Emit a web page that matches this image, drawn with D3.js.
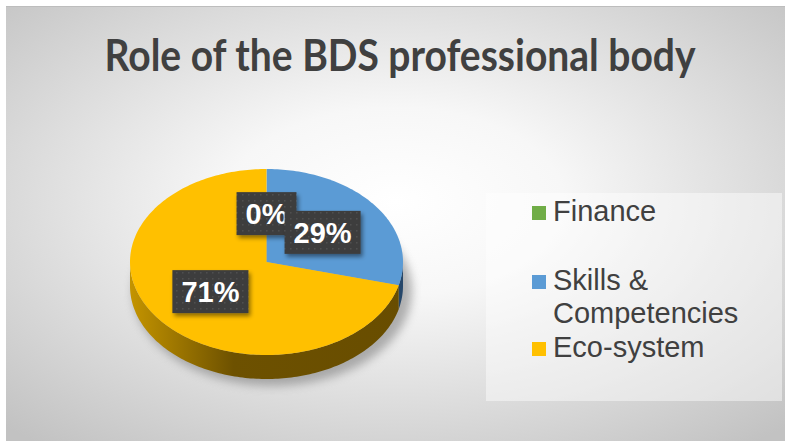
<!DOCTYPE html>
<html>
<head>
<meta charset="utf-8">
<script src="https://cdn.jsdelivr.net/npm/d3@7"></script>
<style>
  html, body { margin: 0; padding: 0; background: #ffffff; }
  svg { display: block; }
</style>
</head>
<body>
<svg id="chart" width="785" height="441"></svg>
<script>
// ---- data ----
const categories = ["Finance", "Skills & Competencies", "Eco-system"];
const values = [0, 29, 71];
const labels = ["0%", "29%", "71%"];
const legendLines = [["Finance"], ["Skills &", "Competencies"], ["Eco-system"]];
const titleText = "Role of the BDS professional body";

// ---- styling ----
const topColors = ["#70AD47", "#5B9BD5", "#FFC000"];
const sideStops = [
  [["0", "#4d7a30"], ["0.35", "#2f4d1c"], ["1", "#2c481a"]],
  [["0", "#3f6f9c"], ["0.35", "#2a4d70"], ["1", "#26476a"]],
  [["0", "#c49400"], ["0.38", "#6d5100"], ["1", "#684d00"]]
];

const svg = d3.select("#chart");
const W = 785, H = 441;
const defs = svg.append("defs");

// chart area background: soft radial light
const bg = defs.append("radialGradient").attr("id", "bgGrad")
  .attr("cx", "0.5").attr("cy", "0.45").attr("r", "0.72");
bg.append("stop").attr("offset", "0").attr("stop-color", "#ffffff");
bg.append("stop").attr("offset", "0.3").attr("stop-color", "#f7f7f7");
bg.append("stop").attr("offset", "1").attr("stop-color", "#c2c2c2");

svg.append("rect").attr("x", 6).attr("y", 6).attr("width", W - 6).attr("height", H - 6)
  .attr("fill", "url(#bgGrad)");
svg.append("line").attr("x1", 6).attr("x2", W).attr("y1", 6.5).attr("y2", 6.5)
  .attr("stroke", "#bdbdbd").attr("stroke-width", 1);

// title
svg.append("text")
  .attr("x", 400).attr("y", 71)
  .attr("text-anchor", "middle")
  .attr("font-family", "Lato, 'Open Sans', sans-serif")
  .attr("font-weight", "bold")
  .attr("font-size", 43)
  .attr("textLength", 591)
  .attr("lengthAdjust", "spacingAndGlyphs")
  .attr("fill", "#404040")
  .text(titleText);

// ---- 3D pie geometry ----
const cx = 266.5, cy = 262, rx = 136.5, ry = 93, depth = 24;
const pie = d3.pie().sort(null).value(d => d)
  .startAngle(0).endAngle(2 * Math.PI);
const arcs = pie(values);

const px = a => cx + rx * Math.sin(a);
const py = a => cy - ry * Math.cos(a);

function topPath(a0, a1) {
  const n = Math.max(2, Math.ceil((a1 - a0) / 0.02));
  const pts = d3.range(n + 1).map(i => {
    const a = a0 + (a1 - a0) * i / n;
    return [px(a), py(a)];
  });
  return "M" + cx + "," + cy + "L" + pts.map(p => p.join(",")).join("L") + "Z";
}

function sidePath(a0, a1) {
  const s = Math.max(a0, Math.PI / 2), e = Math.min(a1, 3 * Math.PI / 2);
  if (e <= s) return null;
  const n = Math.max(2, Math.ceil((e - s) / 0.02));
  const upper = d3.range(n + 1).map(i => s + (e - s) * i / n);
  const lower = upper.slice().reverse();
  return "M" + upper.map(a => px(a) + "," + py(a)).join("L") +
    "L" + lower.map(a => px(a) + "," + (py(a) + depth)).join("L") + "Z";
}

// shadow under the pie
const sh = defs.append("filter").attr("id", "pieShadow")
  .attr("x", "-20%").attr("y", "-20%").attr("width", "140%").attr("height", "140%");
sh.append("feGaussianBlur").attr("stdDeviation", 5);
svg.append("ellipse")
  .attr("cx", cx + 6).attr("cy", cy + depth + 5)
  .attr("rx", rx + 3).attr("ry", ry + 2)
  .attr("fill", "#808080").attr("opacity", 0.6)
  .attr("filter", "url(#pieShadow)");

// side gradients
sideStops.forEach((stops, i) => {
  const g = defs.append("linearGradient").attr("id", "side" + i)
    .attr("gradientUnits", "userSpaceOnUse")
    .attr("x1", cx - rx).attr("x2", cx + rx).attr("y1", 0).attr("y2", 0);
  stops.forEach(s => g.append("stop").attr("offset", s[0]).attr("stop-color", s[1]));
});

const pieG = svg.append("g");
arcs.forEach((d, i) => {
  const p = sidePath(d.startAngle, d.endAngle);
  if (p) pieG.append("path").attr("d", p).attr("fill", "url(#side" + i + ")");
});
arcs.forEach((d, i) => {
  if (d.endAngle - d.startAngle <= 0) return;
  pieG.append("path").attr("d", topPath(d.startAngle, d.endAngle)).attr("fill", topColors[i]);
});

// ---- data labels ----
const pat = defs.append("pattern").attr("id", "dots")
  .attr("patternUnits", "userSpaceOnUse").attr("width", 6).attr("height", 6);
pat.append("rect").attr("width", 6).attr("height", 6).attr("fill", "#3d3d3d");
pat.append("rect").attr("x", 2).attr("y", 2).attr("width", 1.5).attr("height", 1.5).attr("fill", "#505050");

const ls = defs.append("filter").attr("id", "lblShadow")
  .attr("x", "-20%").attr("y", "-20%").attr("width", "150%").attr("height", "160%");
ls.append("feDropShadow").attr("dx", 2).attr("dy", 3).attr("stdDeviation", 2)
  .attr("flood-color", "#000").attr("flood-opacity", 0.45);

const k = 0.52;
arcs.forEach((d, i) => {
  const mid = (d.startAngle + d.endAngle) / 2;
  const lx = cx + k * rx * Math.sin(mid);
  const ly = cy - k * ry * Math.cos(mid);
  const g = svg.append("g");
  const rect = g.append("rect").attr("fill", "url(#dots)").attr("filter", "url(#lblShadow)");
  const t = g.append("text")
    .attr("x", lx).attr("y", ly + 10.5)
    .attr("text-anchor", "middle")
    .attr("font-family", "'Liberation Sans', Arial, sans-serif")
    .attr("font-weight", "bold")
    .attr("font-size", 29)
    .attr("fill", "#ffffff")
    .text(labels[i]);
  const w = t.node().getComputedTextLength() + 18;
  rect.attr("x", lx - w / 2).attr("y", ly - 21.5).attr("width", w).attr("height", 43);
});

// ---- legend ----
svg.append("rect").attr("x", 486).attr("y", 193).attr("width", 296).attr("height", 208)
  .attr("fill", "#ffffff").attr("opacity", 0.45);

const legendBase = [221, 290, 357];
const lg = svg.append("g");
categories.forEach((c, i) => {
  const b = legendBase[i];
  lg.append("rect").attr("x", 532).attr("y", b - 15).attr("width", 14).attr("height", 14)
    .attr("fill", topColors[i]);
  const t = lg.append("text")
    .attr("x", 553).attr("y", b)
    .attr("font-family", "'Liberation Sans', Arial, sans-serif")
    .attr("font-size", 29)
    .attr("fill", "#404040");
  legendLines[i].forEach((line, j) => {
    t.append("tspan").attr("x", 553).attr("dy", j === 0 ? 0 : 33).text(line);
  });
});
</script>
</body>
</html>
